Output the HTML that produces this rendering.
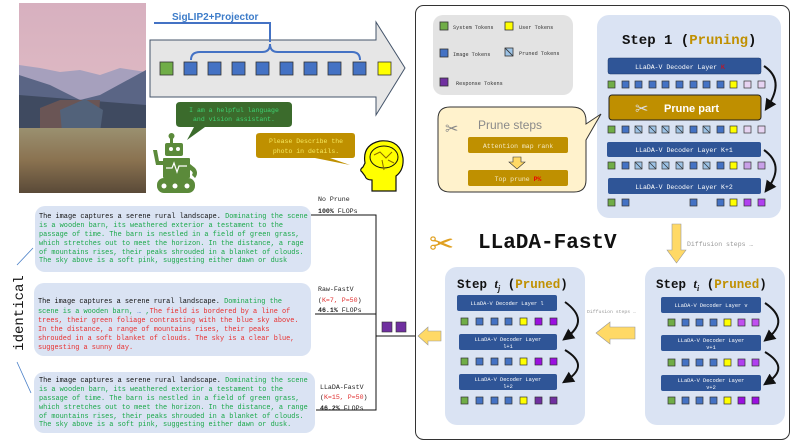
<!DOCTYPE html>
<html><head><meta charset="utf-8"><style>
html,body{margin:0;padding:0;background:#fff;}
svg{display:block;}
.m{font-family:"Liberation Mono","DejaVu Sans Mono",monospace;}
.s{font-family:"Liberation Sans","DejaVu Sans",sans-serif;}
</style></head><body>
<svg width="793" height="446" viewBox="0 0 793 446" xmlns="http://www.w3.org/2000/svg">
<defs>
<linearGradient id="sky" x1="0" y1="0" x2="0" y2="1"><stop offset="0" stop-color="#d7b0bf"/><stop offset="1" stop-color="#e6c4c8"/></linearGradient>
<linearGradient id="grass" x1="0" y1="0" x2="0" y2="1"><stop offset="0" stop-color="#9a9070"/><stop offset="0.5" stop-color="#8a7250"/><stop offset="1" stop-color="#5a4a38"/></linearGradient>
<marker id="ah" markerWidth="6" markerHeight="6" refX="3" refY="3" orient="auto"><path d="M0,0 L6,3 L0,6 Z" fill="#111"/></marker>
</defs>

<!-- photo -->
<rect x="19" y="3" width="127" height="190" fill="url(#sky)"/>
<polygon points="19,65 40,68 60,72 80,70 100,75 120,68 146,72 146,130 19,130" fill="#a6a0bd"/>
<polygon points="19,75 50,85 80,100 100,95 146,70 146,130 19,130" fill="#5a6585"/>
<polygon points="19,95 146,105 146,135 19,135" fill="#3f4a60"/>
<polygon points="40,108 60,100 100,100 98,130 40,130" fill="#6a5555"/>
<polygon points="60,110 85,99 103,110 100,132 62,132" fill="#52627a"/>
<rect x="19" y="128" width="127" height="65" fill="url(#grass)"/>

<!-- big arrow -->
<polygon points="150,40 376,40 376,22 405,68 376,115 376,97 150,97" fill="#e6e6e6" stroke="#44546a" stroke-width="1"/>
<text x="172" y="20" class="s" font-size="10" font-weight="bold" fill="#3d7cc9">SigLIP2+Projector</text>
<path d="M154,23 H270 V42" fill="none" stroke="#4472c4" stroke-width="2"/>
<path d="M191,60 Q191,52 200,52 H262 Q270,52 270,44 Q270,52 278,52 H352 Q360,52 360,60" fill="none" stroke="#4472c4" stroke-width="2"/>
<g stroke="#333" stroke-width="0.8">
<rect x="160" y="62" width="13" height="13" fill="#70ad47"/>
<rect x="184" y="62" width="13" height="13" fill="#4472c4"/>
<rect x="208" y="62" width="13" height="13" fill="#4472c4"/>
<rect x="232" y="62" width="13" height="13" fill="#4472c4"/>
<rect x="256" y="62" width="13" height="13" fill="#4472c4"/>
<rect x="280" y="62" width="13" height="13" fill="#4472c4"/>
<rect x="304" y="62" width="13" height="13" fill="#4472c4"/>
<rect x="328" y="62" width="13" height="13" fill="#4472c4"/>
<rect x="353" y="62" width="13" height="13" fill="#4472c4"/>
<rect x="378" y="62" width="13" height="13" fill="#ffff00"/>
</g>

<!-- green bubble -->
<path d="M180,102 H288 Q292,102 292,106 V123 Q292,127 288,127 H205 L187,140 L194,127 H180 Q176,127 176,123 V106 Q176,102 180,102 Z" fill="#3b6b2c"/>
<text x="234" y="112" class="m" font-size="6.5" fill="#3fd070" text-anchor="middle">I am a helpful language</text>
<text x="234" y="121" class="m" font-size="6.5" fill="#3fd070" text-anchor="middle">and vision assistant.</text>
<!-- robot -->
<g fill="#5b8a3a">
<rect x="170" y="135" width="3" height="8"/><circle cx="171.5" cy="136" r="3"/>
<rect x="165" y="143" width="18" height="13" rx="2"/>
<rect x="163" y="158" width="27" height="20" rx="1"/>
<rect x="157" y="178" width="38" height="15" rx="7"/>
<path d="M153,150 L156,165 L163,165 L163,161 L159,161 L157,150 Z"/>
<path d="M190,164 L195,168 Q199,173 195,178 L192,175 Q194,172 190,170 Z"/>
</g>
<circle cx="171" cy="149" r="2" fill="#fff"/><circle cx="178" cy="149" r="2" fill="#fff"/>
<path d="M166,168 H172 L174,163 L177,172 L179,166 H187" stroke="#fff" fill="none" stroke-width="1.2"/>
<circle cx="164" cy="186" r="2.5" fill="#fff"/><circle cx="175" cy="186" r="2.5" fill="#fff"/><circle cx="187" cy="186" r="2.5" fill="#fff"/>

<!-- yellow bubble -->
<path d="M260,133 H352 Q355,133 355,136 V155 Q355,158 352,158 H330 L350,165 L315,158 H260 Q256,158 256,155 V136 Q256,133 260,133 Z" fill="#bf9000"/>
<text x="306" y="143" class="m" font-size="6.5" fill="#f6e85c" text-anchor="middle">Please Describe the</text>
<text x="306" y="153" class="m" font-size="6.5" fill="#f6e85c" text-anchor="middle">photo in details.</text>
<!-- head -->
<path d="M372,191 V180 Q366,180 365,176 L362,172 Q359,170 363,167 L365,163 Q362,145 380,141 Q400,139 403,158 Q404,170 396,176 V191 Z" fill="#ffff00" stroke="#111" stroke-width="1.2"/>
<ellipse cx="384" cy="157" rx="14" ry="11" fill="none" stroke="#111" stroke-width="1"/>
<path d="M374,155 L380,152 L386,158 L392,152 M382,160 L384,170 M388,160 L394,163" stroke="#8a6a00" fill="none" stroke-width="1"/>

<!-- right panel -->
<rect x="415.5" y="5.5" width="374" height="434" rx="8" fill="#fff" stroke="#333" stroke-width="1"/>
<rect x="433" y="15" width="140" height="80" rx="10" fill="#e3e3e3"/>
<g stroke="#333" stroke-width="0.8">
<rect x="440" y="22" width="8" height="8" fill="#70ad47"/>
<rect x="505" y="22" width="8" height="8" fill="#ffff00"/>
<rect x="440" y="49" width="8" height="8" fill="#4472c4"/>
<rect x="505" y="48" width="8" height="8" fill="#9dc3e6"/><line x1="505" y1="48" x2="513" y2="56"/>
<rect x="440" y="78" width="8" height="8" fill="#7030a0"/>
</g>
<g class="m" font-size="5.2" fill="#333">
<text x="453" y="29">System Tokens</text><text x="519" y="29">User Tokens</text>
<text x="453" y="56">Image Tokens</text><text x="519" y="55">Pruned Tokens</text>
<text x="456" y="85">Response Tokens</text>
</g>

<!-- step1 -->
<rect x="597" y="15" width="184" height="203" rx="12" fill="#dae3f3"/>
<text x="622" y="44" class="m" font-size="14" font-weight="bold" fill="#111">Step 1 (<tspan fill="#c09000">Pruning</tspan>)</text>
<rect x="608" y="58" width="153" height="16" rx="2" fill="#2f5597" stroke="#1f3a6a" stroke-width="0.5"/>
<text x="680" y="69" class="m" font-size="6.5" fill="#fff" text-anchor="middle">LLaDA-V Decoder Layer <tspan fill="#e00">K</tspan></text>
<rect x="609" y="95" width="152" height="25" rx="3" fill="#bf8f00" stroke="#222" stroke-width="1"/>
<text x="664" y="112" class="s" font-size="11" font-weight="bold" fill="#fff">Prune part</text>
<text x="635" y="114" font-size="16" fill="#ddd">✂</text>
<rect x="607" y="142" width="154" height="15" rx="2" fill="#2f5597"/>
<text x="684" y="152" class="m" font-size="6.5" fill="#fff" text-anchor="middle">LLaDA-V Decoder Layer K+1</text>
<rect x="608" y="178" width="153" height="16" rx="2" fill="#2f5597"/>
<text x="684" y="189" class="m" font-size="6.5" fill="#fff" text-anchor="middle">LLaDA-V Decoder Layer K+2</text>
<path d="M764,66 Q785,80 768,106" fill="none" stroke="#111" stroke-width="2" marker-end="url(#ah)"/>
<path d="M764,150 Q785,165 768,188" fill="none" stroke="#111" stroke-width="2" marker-end="url(#ah)"/>
<g stroke="#333" stroke-width="0.7">
<!-- row1 -->
<rect x="608" y="81" width="7" height="7" fill="#70ad47"/><rect x="622" y="81" width="7" height="7" fill="#4472c4"/><rect x="635" y="81" width="7" height="7" fill="#4472c4"/><rect x="649" y="81" width="7" height="7" fill="#4472c4"/><rect x="662" y="81" width="7" height="7" fill="#4472c4"/><rect x="676" y="81" width="7" height="7" fill="#4472c4"/><rect x="690" y="81" width="7" height="7" fill="#4472c4"/><rect x="703" y="81" width="7" height="7" fill="#4472c4"/><rect x="717" y="81" width="7" height="7" fill="#4472c4"/><rect x="730" y="81" width="7" height="7" fill="#ffff00"/><rect x="744" y="81" width="7" height="7" fill="#e6d4f2"/><rect x="758" y="81" width="7" height="7" fill="#e6d4f2"/>
<!-- row2 -->
<rect x="608" y="126" width="7" height="7" fill="#70ad47"/><rect x="622" y="126" width="7" height="7" fill="#4472c4"/><rect x="635" y="126" width="7" height="7" fill="#9dc3e6"/><rect x="649" y="126" width="7" height="7" fill="#9dc3e6"/><rect x="662" y="126" width="7" height="7" fill="#9dc3e6"/><rect x="676" y="126" width="7" height="7" fill="#9dc3e6"/><rect x="690" y="126" width="7" height="7" fill="#4472c4"/><rect x="703" y="126" width="7" height="7" fill="#9dc3e6"/><rect x="717" y="126" width="7" height="7" fill="#4472c4"/><rect x="730" y="126" width="7" height="7" fill="#ffff00"/><rect x="744" y="126" width="7" height="7" fill="#e6d4f2"/><rect x="758" y="126" width="7" height="7" fill="#e6d4f2"/>
<line x1="635" y1="126" x2="642" y2="133"/><line x1="649" y1="126" x2="656" y2="133"/><line x1="662" y1="126" x2="669" y2="133"/><line x1="676" y1="126" x2="683" y2="133"/><line x1="703" y1="126" x2="710" y2="133"/>
<!-- row3 -->
<rect x="608" y="162" width="7" height="7" fill="#70ad47"/><rect x="622" y="162" width="7" height="7" fill="#4472c4"/><rect x="635" y="162" width="7" height="7" fill="#9dc3e6"/><rect x="649" y="162" width="7" height="7" fill="#9dc3e6"/><rect x="662" y="162" width="7" height="7" fill="#9dc3e6"/><rect x="676" y="162" width="7" height="7" fill="#9dc3e6"/><rect x="690" y="162" width="7" height="7" fill="#4472c4"/><rect x="703" y="162" width="7" height="7" fill="#9dc3e6"/><rect x="717" y="162" width="7" height="7" fill="#4472c4"/><rect x="730" y="162" width="7" height="7" fill="#ffff00"/><rect x="744" y="162" width="7" height="7" fill="#c8a0e8"/><rect x="758" y="162" width="7" height="7" fill="#c8a0e8"/>
<line x1="635" y1="162" x2="642" y2="169"/><line x1="649" y1="162" x2="656" y2="169"/><line x1="662" y1="162" x2="669" y2="169"/><line x1="676" y1="162" x2="683" y2="169"/><line x1="703" y1="162" x2="710" y2="169"/>
<!-- row4 -->
<rect x="608" y="199" width="7" height="7" fill="#70ad47"/><rect x="622" y="199" width="7" height="7" fill="#4472c4"/><rect x="690" y="199" width="7" height="7" fill="#4472c4"/><rect x="717" y="199" width="7" height="7" fill="#4472c4"/><rect x="730" y="199" width="7" height="7" fill="#ffff00"/><rect x="744" y="199" width="7" height="7" fill="#b040f0"/><rect x="758" y="199" width="7" height="7" fill="#b040f0"/>
</g>

<!-- prune steps bubble -->
<path d="M450,107 H572 Q586,107 586,121 V124 L601,114 L586,140 V180 Q586,192 574,192 H450 Q438,192 438,180 V119 Q438,107 450,107 Z" fill="#fff2cc" stroke="#333" stroke-width="1"/>
<text x="445" y="134" font-size="16" fill="#888">✂</text>
<text x="478" y="129" class="s" font-size="12" fill="#8a8a8a">Prune steps</text>
<rect x="468" y="137" width="100" height="16" rx="2" fill="#bf9000"/>
<text x="518" y="148" class="m" font-size="6.5" fill="#f4e8c0" text-anchor="middle">Attention map rank</text>
<polygon points="513,157 521,157 521,162 525,162 517,169 509,162 513,162" fill="#ffd966" stroke="#333" stroke-width="0.6"/>
<rect x="468" y="170" width="100" height="16" rx="2" fill="#bf9000"/>
<text x="518" y="181" class="m" font-size="6.5" fill="#f4e8c0" text-anchor="middle">Top prune <tspan fill="#e00" font-weight="bold">P%</tspan></text>

<!-- LLaDA-FastV title -->
<text x="429" y="254" font-size="30" fill="#e0a020">✂</text>
<text x="478" y="248" class="m" font-size="21" font-weight="bold" fill="#111">LLaDA-FastV</text>
<polygon points="672,224 681,224 681,250 686,250 676.5,263 667,250 672,250" fill="#ffd966" stroke="#999" stroke-width="0.6"/>
<text x="687" y="246" class="m" font-size="6.5" fill="#999">Diffusion steps …</text>

<!-- step tj -->
<rect x="445" y="267" width="140" height="158" rx="12" fill="#dae3f3"/>
<text x="457" y="288" class="m" font-size="12.5" font-weight="bold" fill="#111">Step <tspan font-family="Liberation Serif" font-style="italic">t</tspan><tspan font-family="Liberation Serif" font-style="italic" font-size="8" dy="3">j</tspan><tspan dy="-3"> (</tspan><tspan fill="#c09000">Pruned</tspan>)</text>
<rect x="457" y="295" width="100" height="16" rx="2" fill="#2f5597"/>
<text x="507" y="305" class="m" font-size="5.3" fill="#fff" text-anchor="middle">LLaDA-V Decoder Layer l</text>
<rect x="459" y="334" width="98" height="16" rx="2" fill="#2f5597"/>
<text x="508" y="341" class="m" font-size="5.3" fill="#fff" text-anchor="middle">LLaDA-V Decoder Layer</text>
<text x="508" y="348" class="m" font-size="5.3" fill="#fff" text-anchor="middle">l+1</text>
<rect x="459" y="374" width="98" height="16" rx="2" fill="#2f5597"/>
<text x="508" y="381" class="m" font-size="5.3" fill="#fff" text-anchor="middle">LLaDA-V Decoder Layer</text>
<text x="508" y="388" class="m" font-size="5.3" fill="#fff" text-anchor="middle">l+2</text>
<path d="M565,302 Q590,320 567,337" fill="none" stroke="#111" stroke-width="2" marker-end="url(#ah)"/>
<path d="M565,350 Q590,365 567,380" fill="none" stroke="#111" stroke-width="2" marker-end="url(#ah)"/>

<!-- step ti -->
<rect x="645" y="267" width="140" height="158" rx="12" fill="#dae3f3"/>
<text x="656" y="288" class="m" font-size="12.5" font-weight="bold" fill="#111">Step <tspan font-family="Liberation Serif" font-style="italic">t</tspan><tspan font-family="Liberation Serif" font-style="italic" font-size="8" dy="3">i</tspan><tspan dy="-3"> (</tspan><tspan fill="#c09000">Pruned</tspan>)</text>
<rect x="661" y="297" width="100" height="16" rx="2" fill="#2f5597"/>
<text x="711" y="307" class="m" font-size="5.3" fill="#fff" text-anchor="middle">LLaDA-V Decoder Layer v</text>
<rect x="661" y="335" width="100" height="16" rx="2" fill="#2f5597"/>
<text x="711" y="342" class="m" font-size="5.3" fill="#fff" text-anchor="middle">LLaDA-V Decoder Layer</text>
<text x="711" y="349" class="m" font-size="5.3" fill="#fff" text-anchor="middle">v+1</text>
<rect x="661" y="375" width="100" height="16" rx="2" fill="#2f5597"/>
<text x="711" y="382" class="m" font-size="5.3" fill="#fff" text-anchor="middle">LLaDA-V Decoder Layer</text>
<text x="711" y="389" class="m" font-size="5.3" fill="#fff" text-anchor="middle">v+2</text>
<path d="M765,303 Q790,320 768,338" fill="none" stroke="#111" stroke-width="2" marker-end="url(#ah)"/>
<path d="M765,352 Q790,367 768,382" fill="none" stroke="#111" stroke-width="2" marker-end="url(#ah)"/>
<text x="587" y="313" class="m" font-size="4.8" fill="#999">Diffusion steps …</text>

<g stroke="#333" stroke-width="0.7">
<rect x="461" y="318" width="7" height="7" fill="#70ad47"/><rect x="476" y="318" width="7" height="7" fill="#4472c4"/><rect x="491" y="318" width="7" height="7" fill="#4472c4"/><rect x="505" y="318" width="7" height="7" fill="#4472c4"/><rect x="520" y="318" width="7" height="7" fill="#ffff00"/><rect x="535" y="318" width="7" height="7" fill="#9a10e0"/><rect x="550" y="318" width="7" height="7" fill="#9a10e0"/>
<rect x="461" y="358" width="7" height="7" fill="#70ad47"/><rect x="476" y="358" width="7" height="7" fill="#4472c4"/><rect x="491" y="358" width="7" height="7" fill="#4472c4"/><rect x="505" y="358" width="7" height="7" fill="#4472c4"/><rect x="520" y="358" width="7" height="7" fill="#ffff00"/><rect x="535" y="358" width="7" height="7" fill="#9a10e0"/><rect x="550" y="358" width="7" height="7" fill="#9a10e0"/>
<rect x="461" y="397" width="7" height="7" fill="#70ad47"/><rect x="476" y="397" width="7" height="7" fill="#4472c4"/><rect x="491" y="397" width="7" height="7" fill="#4472c4"/><rect x="505" y="397" width="7" height="7" fill="#4472c4"/><rect x="520" y="397" width="7" height="7" fill="#ffff00"/><rect x="535" y="397" width="7" height="7" fill="#7030a0"/><rect x="550" y="397" width="7" height="7" fill="#7030a0"/>
<rect x="668" y="319" width="7" height="7" fill="#70ad47"/><rect x="682" y="319" width="7" height="7" fill="#4472c4"/><rect x="696" y="319" width="7" height="7" fill="#4472c4"/><rect x="710" y="319" width="7" height="7" fill="#4472c4"/><rect x="724" y="319" width="7" height="7" fill="#ffff00"/><rect x="738" y="319" width="7" height="7" fill="#c050f0"/><rect x="752" y="319" width="7" height="7" fill="#c050f0"/>
<rect x="668" y="359" width="7" height="7" fill="#70ad47"/><rect x="682" y="359" width="7" height="7" fill="#4472c4"/><rect x="696" y="359" width="7" height="7" fill="#4472c4"/><rect x="710" y="359" width="7" height="7" fill="#4472c4"/><rect x="724" y="359" width="7" height="7" fill="#ffff00"/><rect x="738" y="359" width="7" height="7" fill="#b040f0"/><rect x="752" y="359" width="7" height="7" fill="#b040f0"/>
<rect x="668" y="397" width="7" height="7" fill="#70ad47"/><rect x="682" y="397" width="7" height="7" fill="#4472c4"/><rect x="696" y="397" width="7" height="7" fill="#4472c4"/><rect x="710" y="397" width="7" height="7" fill="#4472c4"/><rect x="724" y="397" width="7" height="7" fill="#ffff00"/><rect x="738" y="397" width="7" height="7" fill="#9a10e0"/><rect x="752" y="397" width="7" height="7" fill="#9a10e0"/>
</g>
<!-- yellow left arrows -->
<polygon points="635,327 610,327 610,322 596,333 610,344 610,339 635,339" fill="#ffd966" stroke="#999" stroke-width="0.6"/>
<polygon points="441,331 428,331 428,327 418,336 428,345 428,341 441,341" fill="#ffd966" stroke="#999" stroke-width="0.6"/>

<!-- bracket lines -->
<path d="M311,215 H376 V410 H316" fill="none" stroke="#111" stroke-width="1"/>
<path d="M315,314 H376" fill="none" stroke="#111" stroke-width="1"/>
<path d="M376,336 H415" fill="none" stroke="#111" stroke-width="1"/>
<rect x="382" y="322" width="10" height="10" fill="#7030a0" stroke="#333" stroke-width="0.6"/>
<rect x="396" y="322" width="10" height="10" fill="#7030a0" stroke="#333" stroke-width="0.6"/>

<g class="m" font-size="6.6" fill="#222">
<text x="318" y="201">No Prune</text>
<text x="318" y="213" font-weight="bold">100% <tspan font-weight="normal">FLOPs</tspan></text>
<text x="318" y="291">Raw-FastV</text>
<text x="318" y="302">(<tspan fill="#e03030">K=7, P=50</tspan>)</text>
<text x="318" y="312" font-weight="bold">46.1% <tspan font-weight="normal">FLOPs</tspan></text>
<text x="320" y="389">LLaDA-FastV</text>
<text x="320" y="399">(<tspan fill="#e03030">K=15, P=50</tspan>)</text>
<text x="320" y="410" font-weight="bold">46.2% <tspan font-weight="normal">FLOPs</tspan></text>
</g>

<!-- text boxes -->
<rect x="35" y="206" width="276" height="66" rx="10" fill="#dae3f3"/>
<rect x="34" y="283" width="277" height="73" rx="10" fill="#dae3f3"/>
<rect x="34" y="372" width="281" height="61" rx="10" fill="#dae3f3"/>
<g class="m" font-size="6.9" fill="#1aa84a">
<text x="39" y="218"><tspan fill="#111">The image captures a serene rural landscape. </tspan>Dominating the scene</text>
<text x="39" y="227">is a wooden barn, its weathered exterior a testament to the</text>
<text x="39" y="236">passage of time. The barn is nestled in a field of green grass,</text>
<text x="39" y="245">which stretches out to meet the horizon. In the distance, a rage</text>
<text x="39" y="254">of mountains rises, their peaks shrouded in a blanket of clouds.</text>
<text x="39" y="262">The sky above is a soft pink, suggesting either dawn or dusk</text>

<text x="38" y="303"><tspan fill="#111">The image captures a serene rural landscape. </tspan>Dominating the</text>
<text x="38" y="313">scene is a wooden barn, <tspan fill="#3d7cc9">…</tspan> ,<tspan fill="#e83030">The field is bordered by a line of</tspan></text>
<text x="38" y="322" fill="#e83030">trees, their green foliage contrasting with the blue sky above.</text>
<text x="38" y="331" fill="#e83030">In the distance, a range of mountains rises, their peaks</text>
<text x="38" y="340" fill="#e83030">shrouded in a soft blanket of clouds. The sky is a clear blue,</text>
<text x="38" y="349" fill="#e83030">suggesting a sunny day.</text>

<text x="39" y="382"><tspan fill="#111">The image captures a serene rural landscape. </tspan>Dominating the scene</text>
<text x="39" y="391">is a wooden barn, its weathered exterior a testament to the</text>
<text x="39" y="400">passage of time. The barn is nestled in a field of green grass,</text>
<text x="39" y="409">which stretches out to meet the horizon. In the distance, a range</text>
<text x="39" y="418">of mountains rises, their peaks shrouded in a blanket of clouds.</text>
<text x="39" y="426">The sky above is a soft pink, suggesting either dawn or dusk.</text>
</g>

<!-- identical -->
<path d="M17,265 L33,248 M17,362 L31,393" stroke="#4a80c8" stroke-width="0.8" fill="none"/>
<text transform="translate(23,313) rotate(-90)" class="m" font-size="14" fill="#111" text-anchor="middle">identical</text>
</svg>
</body></html>
